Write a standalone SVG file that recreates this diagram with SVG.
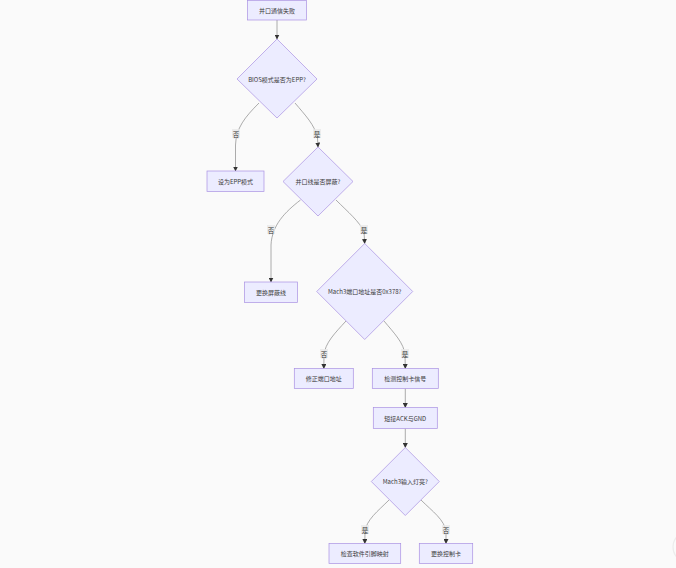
<svg xmlns="http://www.w3.org/2000/svg" width="676" height="568" viewBox="0 0 676 568">
<style>
.bg{fill:#fafafa}
.node rect,.node polygon{fill:#ECECFF;stroke:#a990e2;stroke-width:0.7}
.node text{font-family:"Noto Sans CJK SC","Liberation Sans",sans-serif;font-size:6px;fill:#3a3a3a;text-anchor:middle;dominant-baseline:central}
.edge{fill:none;stroke:#909090;stroke-width:0.75}
.lbl rect{fill:#e8e8e8;fill-opacity:0.8}
.lbl text{font-family:"Noto Sans CJK SC","Liberation Sans",sans-serif;font-size:6.5px;fill:#333;text-anchor:middle;dominant-baseline:central}
</style>
<defs>
<marker id="arr" viewBox="0 0 10 10" refX="9" refY="5" markerWidth="5" markerHeight="5" markerUnits="userSpaceOnUse" orient="auto">
<path d="M0,0 L10,5 L0,10 z" fill="#333"/>
</marker>
</defs>
<rect class="bg" x="0" y="0" width="676" height="568"/>
<circle cx="689" cy="547" r="16" fill="none" stroke="#ececec" stroke-width="1.2"/>
<g id="connectors">
<path class="edge" d="M277,20 L277,39" marker-end="url(#arr)"/>
<path class="edge" d="M259,103 C245,117 236,128 235.5,145 L235.5,171" marker-end="url(#arr)"/>
<path class="edge" d="M295,103 C305,115 315,125 317.5,138 L318,147" marker-end="url(#arr)"/>
<path class="edge" d="M300.5,200 C285,212 272,225 271,245 L271,282" marker-end="url(#arr)"/>
<path class="edge" d="M336,200 C348,212 360,222 364,232 L364.7,243.5" marker-end="url(#arr)"/>
<path class="edge" d="M346,321 C335,333 325,343 324,355 L323.8,368.5" marker-end="url(#arr)"/>
<path class="edge" d="M384,321 C394,333 404,343 405,355 L405.3,368.5" marker-end="url(#arr)"/>
<path class="edge" d="M405.3,388.5 L405.3,407.5" marker-end="url(#arr)"/>
<path class="edge" d="M405.3,428.5 L405.3,447.5" marker-end="url(#arr)"/>
<path class="edge" d="M389,500 C378,511 366,520 365,532 L364.8,543.5" marker-end="url(#arr)"/>
<path class="edge" d="M421,500 C432,511 445,520 446,532 L446,543.5" marker-end="url(#arr)"/>
<g class="lbl"><rect x="232" y="129" width="8" height="9"/><text x="236" y="133.5">否</text></g>
<g class="lbl"><rect x="313" y="129" width="8" height="9"/><text x="317" y="133.5">是</text></g>
<g class="lbl"><rect x="267" y="225" width="8" height="9"/><text x="271" y="229.5">否</text></g>
<g class="lbl"><rect x="360" y="225" width="8" height="9"/><text x="364" y="229.5">是</text></g>
<g class="lbl"><rect x="320" y="349" width="8" height="9"/><text x="324" y="353.5">否</text></g>
<g class="lbl"><rect x="401" y="349" width="8" height="9"/><text x="405" y="353.5">是</text></g>
<g class="lbl"><rect x="361" y="525" width="8" height="9"/><text x="365" y="529.5">是</text></g>
<g class="lbl"><rect x="442" y="525" width="8" height="9"/><text x="446" y="529.5">否</text></g>
</g>
<g id="n1" class="node"><rect x="247.5" y="0.5" width="59" height="19.5"/><text x="277" y="10">并口通信失败</text></g>
<g id="d1" class="node"><polygon points="277,39 317,79 277,118 237,79"/><text x="277" y="79">BIOS模式是否为EPP?</text></g>
<g id="n2" class="node"><rect x="207" y="171" width="57" height="20.5"/><text x="235.5" y="181">设为EPP模式</text></g>
<g id="d2" class="node"><polygon points="318,147 353,181.5 318,216 283,181.5"/><text x="318" y="181.5">并口线是否屏蔽?</text></g>
<g id="n3" class="node"><rect x="244.5" y="282" width="53" height="20.5"/><text x="271" y="292">更换屏蔽线</text></g>
<g id="d3" class="node"><polygon points="364.7,243.5 412.7,291.5 364.7,339.5 316.7,291.5"/><text x="364.7" y="291.5">Mach3端口地址是否0x378?</text></g>
<g id="n4" class="node"><rect x="294.3" y="368.5" width="59" height="20"/><text x="323.8" y="378.5">修正端口地址</text></g>
<g id="n5" class="node"><rect x="372.3" y="368.5" width="66" height="20"/><text x="405.3" y="378.5">检测控制卡信号</text></g>
<g id="n6" class="node"><rect x="373.3" y="407.5" width="64" height="21"/><text x="405.3" y="418">短接ACK与GND</text></g>
<g id="d4" class="node"><polygon points="405.3,447.5 439.3,481.5 405.3,515.5 371.3,481.5"/><text x="405.3" y="481.5">Mach3输入灯亮?</text></g>
<g id="n7" class="node"><rect x="329" y="543.5" width="71.7" height="20"/><text x="364.8" y="553.5">检查软件引脚映射</text></g>
<g id="n8" class="node"><rect x="419.3" y="543.5" width="53.4" height="20"/><text x="446" y="553.5">更换控制卡</text></g>
</svg>
